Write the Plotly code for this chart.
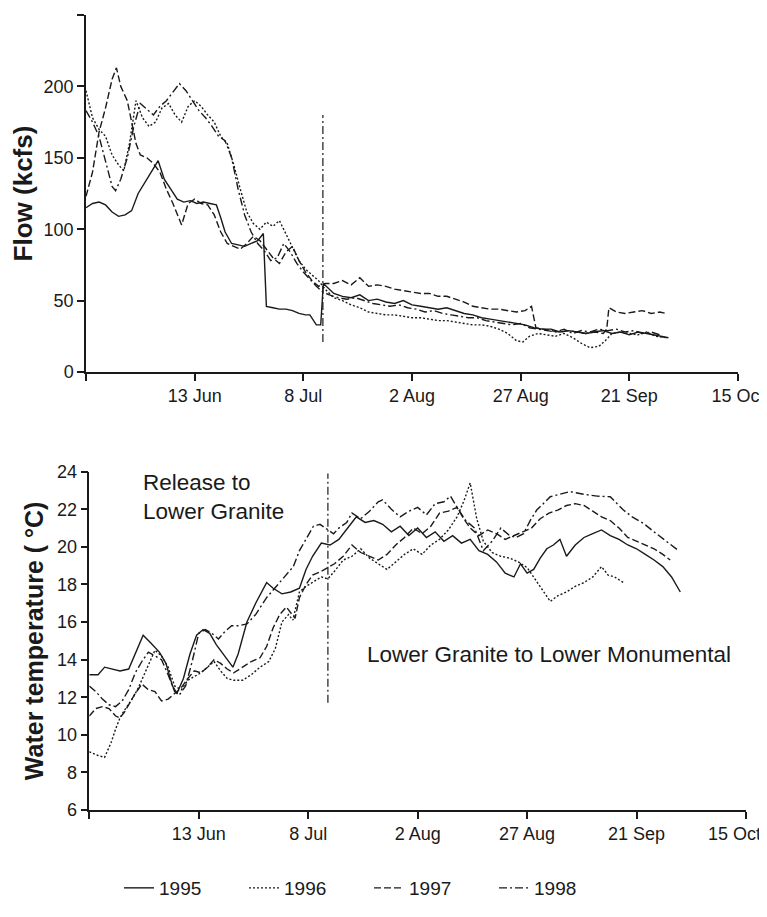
import plotly.graph_objects as go

# ---------------- data ----------------
# x values are days after 19 May
tick_days = [0, 25, 50, 75, 100, 125, 150]
tick_text = ["", "13 Jun", "8 Jul", "2 Aug", "27 Aug", "21 Sep", "15 Oct"]
years = ["1995", "1996", "1997", "1998"]

flow_days_1995 = [0, 1.5, 3, 4.5, 6, 7.5, 9, 10.5, 12, 13.5,
                  15, 16.6, 18, 19.5, 21, 22.5, 24, 25.5, 27, 28.5,
                  30, 31, 32, 33.5, 35, 36.5, 38, 39.5, 40.8, 41.5,
                  43, 44.5, 46, 47.5, 49, 50.5, 51.5, 53, 54, 54.6,
                  57, 59, 61, 63, 65, 67, 69, 71, 73, 75,
                  77, 79, 81, 83, 85, 87, 89, 91, 93, 95,
                  97, 99, 101, 103, 105, 107, 109, 111, 113, 115,
                  117, 119, 121, 123, 125, 127, 129, 131, 133, 134]
flow_1995 = [115, 118, 119, 117, 112, 109, 110, 113, 125, 133,
             140, 148, 135, 128, 121, 119, 120, 118, 119, 118,
             117, 108, 98, 90, 89, 88, 90, 92, 97, 46,
             45, 44, 44, 43, 41, 40, 40, 33, 33, 62,
             55, 53, 52, 54, 50, 51, 49, 48, 50, 47,
             46, 45, 44, 45, 43, 41, 40, 38, 37, 36,
             35, 34, 33, 31, 30, 30, 28, 29, 28, 27,
             28, 29, 27, 28, 26, 28, 27, 26, 25, 24]

flow_days_1996 = [0, 1.5, 3, 4.5, 6, 7.5, 8.7, 10, 11.5, 13,
                  14.5, 16, 17.5, 19, 20.5, 22, 23.5, 25, 26.5, 28,
                  29.5, 31, 32.5, 34, 35.5, 37, 38.5, 40, 41.5, 43,
                  44.5, 46, 47.5, 49, 50.5, 52, 53.5, 55, 57, 59,
                  61, 63, 65, 67, 69, 71, 73, 75, 77, 79,
                  81, 83, 85, 87, 89, 91, 93, 95, 97, 99,
                  100.5, 102, 104, 106, 108, 110, 112, 114, 116, 118,
                  119.5, 121, 123, 125, 127, 129, 131, 133.5]
flow_1996 = [197, 178, 170, 165, 152, 145, 141, 160, 190, 178,
             172, 175, 185, 188, 180, 175, 186, 190, 186, 180,
             175, 165, 160, 145, 128, 112, 104, 100, 105, 102,
             106, 97, 88, 78, 72, 68, 64, 58, 52, 50,
             47, 45, 42, 41, 40, 40, 39, 38, 38, 37,
             36, 36, 35, 34, 33, 33, 32, 30, 27, 22,
             21, 25, 27, 26, 25, 27, 24, 20, 17, 18,
             22, 27, 28, 27, 26, 28, 25, 24]

flow_days_1997 = [0, 1.5, 3, 4.5, 6, 7, 8, 9.5, 10.5, 11.5,
                  12.5, 14, 15.5, 17, 18.5, 20, 22, 23.5, 25, 26.5,
                  28, 29.5, 31, 32.5, 34, 35.5, 37, 38.5, 40, 41.5,
                  43, 44.5, 46, 47.5, 49, 50.5, 52, 53.5, 55, 57,
                  59, 61, 63, 65, 67, 69, 71, 73, 75, 77,
                  79, 81, 83, 85, 87, 89, 91, 93, 95, 97,
                  99, 101, 102.5, 103.5, 105, 107, 109, 111, 113, 115,
                  117, 119, 119.8, 120.3, 122, 124, 126, 128, 130, 132,
                  133.5]
flow_1997 = [123, 140, 168, 185, 205, 213, 200, 190, 175, 160,
             152, 150, 146, 140, 128, 118, 103, 118, 121, 118,
             117, 110, 98, 90, 88, 86, 90, 95, 92, 86,
             80, 76, 84, 88, 78, 70, 64, 60, 62, 62,
             64, 61, 66, 60, 61, 60, 58, 57, 56, 55,
             55, 53, 53, 51, 49, 46, 45, 44, 44, 43,
             42, 43, 46, 31, 30, 29, 28, 29, 28, 27,
             28, 27, 30, 45, 42, 41, 42, 43, 41, 42,
             41]

flow_days_1998 = [0, 1.5, 3, 4.5, 6, 6.8, 8, 9.5, 11, 12.5,
                  14, 15.5, 17, 18.5, 20, 21.5, 23, 24.5, 26, 27.5,
                  29, 30.5, 32, 33.5, 35, 36.5, 38, 39.5, 41, 42.5,
                  44, 45.5, 47, 48.5, 50, 51.5, 53, 54.5, 56, 58,
                  60, 62, 64, 66, 68, 70, 72, 74, 76, 78,
                  80, 82, 84, 86, 88, 90, 92, 94, 96, 98,
                  100, 102, 104, 106, 108, 110, 112, 114, 116, 118,
                  120, 122, 124, 126, 128, 130, 132, 133.5]
flow_1998 = [183, 175, 165, 148, 130, 127, 135, 150, 172, 188,
             184, 180, 186, 190, 196, 202, 197, 190, 183, 178,
             172, 165, 162, 150, 128, 110, 98, 90, 85, 78,
             80, 90, 84, 76, 70, 65, 60, 56, 54, 52,
             51, 52, 50, 48, 47, 46, 47, 45, 44, 42,
             43, 41, 40, 39, 38, 38, 36, 35, 34, 33,
             34, 31, 30, 29, 28, 30, 27, 29, 28, 30,
             29, 30, 28, 29, 27, 28, 26, 23]

temp_days_1995 = [0, 2, 3.5, 5, 7, 9, 10.5, 12.3, 14, 16,
                  17.5, 19, 20, 21.5, 23, 24.5, 26, 27.5, 29, 31,
                  32.8, 34, 36, 38, 40.5, 42, 44, 46, 48, 49.5,
                  51, 53, 55, 57, 59, 61, 63, 65, 67, 69,
                  71, 73, 75, 77, 79, 81, 83, 85, 87, 89,
                  91, 93, 95, 97, 98.5, 100, 101.5, 103, 104.5, 106,
                  107.5, 109, 111, 113, 115, 117, 119, 121, 123, 125,
                  127, 129, 131, 133, 135]
temp_1995 = [13.2, 13.2, 13.6, 13.5, 13.4, 13.5, 14.3, 15.3, 14.9, 14.4,
             13.8, 12.6, 12.2, 13.0, 14.3, 15.3, 15.6, 15.4, 14.8, 14.2,
             13.6, 14.3, 16.0, 17.0, 18.1, 17.8, 17.5, 17.6, 17.8, 18.8,
             19.5, 20.2, 20.1, 20.4, 21.0, 21.6, 21.3, 21.4, 21.2, 20.8,
             21.1, 20.6, 21.0, 20.5, 20.8, 20.3, 20.6, 20.2, 20.4, 19.8,
             19.6, 19.2, 18.6, 18.4, 19.1, 18.6, 18.8, 19.4, 19.9, 20.1,
             20.4, 19.5, 20.1, 20.5, 20.7, 20.9, 20.6, 20.4, 20.1, 19.9,
             19.6, 19.3, 18.95, 18.4, 17.6]

temp_days_1996 = [0, 2, 3.5, 5, 6, 7, 8, 9.5, 11, 12.5,
                  14, 15, 16.5, 18, 19.5, 21, 22.5, 24, 25.5, 27,
                  28.5, 30, 31.5, 33, 35, 37, 39, 41, 42.5, 44,
                  45.5, 46.5, 48, 49.5, 51, 53, 54.5, 56, 58, 60,
                  62, 64, 66, 68, 70, 72, 74, 76, 78, 80,
                  82, 84, 85.5, 87, 88.5, 90, 92, 94, 96, 98,
                  100, 102, 104, 105.3, 107, 109, 111, 113, 115, 117,
                  118.5, 120, 122]
temp_1996 = [9.1, 8.9, 8.8, 9.6, 10.3, 10.9, 11.3, 11.8, 12.4, 13.2,
             14.0, 14.5, 14.2, 13.6, 12.6, 12.4, 12.9, 13.1, 13.3, 13.6,
             13.9, 13.4, 13.0, 12.9, 12.9, 13.2, 13.6, 13.9, 14.6, 16.0,
             16.4, 16.1, 17.6, 17.9, 18.1, 18.4, 18.3, 18.7, 19.3, 19.5,
             19.9, 19.4, 19.1, 18.8, 19.2, 19.6, 19.9, 19.6, 20.1, 20.4,
             20.9, 21.6, 22.4, 23.4, 21.5, 20.3, 19.7, 19.5, 19.4, 19.2,
             18.9, 18.2, 17.5, 17.1, 17.4, 17.6, 17.9, 18.1, 18.4, 18.95,
             18.5, 18.4, 18.1]

temp_days_1997 = [0, 1.5, 3, 4.5, 6, 7, 8, 9, 10.5, 12,
                  13.5, 15, 16.5, 18, 19.5, 21, 22.5, 24, 25.5, 27,
                  28.5, 30, 31.5, 33, 35, 37, 39, 40.5, 42, 43.5,
                  45, 46, 47, 48, 49.5, 51, 53, 54.5, 56, 58,
                  60, 62, 64, 66, 68, 70, 72, 74, 76, 78,
                  80, 82, 84, 85.5, 87, 89, 91, 93, 95, 97,
                  99, 101, 103, 105, 107, 109, 111, 113, 115, 117,
                  119, 121, 123, 125, 127, 129, 131, 132.7]
temp_1997 = [11.0, 11.4, 11.5, 11.4, 11.0, 10.9, 11.2, 11.6, 12.2, 12.7,
             12.4, 12.3, 11.8, 11.9, 12.2, 12.5, 13.0, 13.4, 13.3, 13.6,
             14.0, 13.8, 13.5, 13.3, 13.6, 13.9, 14.1, 14.7, 15.7, 16.4,
             16.8, 16.5, 16.2, 17.3, 18.0, 18.5, 18.7, 18.9, 19.1, 19.5,
             20.1, 19.7, 19.5, 19.3, 19.6, 20.1, 20.5, 21.0, 20.7, 21.1,
             21.8, 21.9, 22.1, 21.5, 21.0, 20.6, 20.9, 20.7, 20.4, 20.6,
             20.8, 21.0, 21.5, 21.8, 21.96, 22.2, 22.3, 22.2, 21.9, 21.6,
             21.4, 21.0, 20.5, 20.3, 20.1, 19.9, 19.6, 19.3]

temp_days_1998 = [0, 1.5, 3, 4.5, 6, 7.5, 9, 10.5, 12, 13.5,
                  15, 16.5, 18, 19.5, 20.5, 22, 23.5, 25, 26.5, 28,
                  29.5, 31, 32.5, 34, 36, 38, 40.5, 42, 43.6, 45,
                  46.6, 48, 49.7, 51.2, 52.7, 54, 55.8, 57, 58.8, 60,
                  62, 64, 66, 67, 69, 71, 73, 75, 77, 79,
                  81, 82.5, 84, 86, 88, 90, 92, 94, 96, 97.5,
                  99.2, 100.7, 102.2, 103.7, 105.3, 107.5, 109.8, 112.9, 116, 119,
                  122, 124, 126.6, 129, 131.9, 134.6]
temp_1998 = [12.6, 12.3, 11.9, 11.6, 11.5, 11.8, 12.4, 13.3, 13.9, 14.4,
             14.2, 14.0, 13.2, 12.3, 12.1, 12.6, 13.9, 15.4, 15.6, 15.4,
             15.1, 15.5, 15.8, 15.8, 15.9, 16.4, 17.3, 17.7, 18.1, 18.5,
             18.95, 19.8, 20.5, 21.1, 21.2, 21.0, 20.7, 21.0, 21.3, 21.8,
             21.5, 21.9, 22.4, 22.5, 22.0, 21.6, 21.9, 22.1, 21.7, 22.3,
             22.4, 22.7, 22.1, 21.4, 21.0, 19.8, 20.3, 21.0, 20.6, 20.5,
             20.7, 21.4, 21.96, 22.3, 22.67, 22.8, 22.94, 22.8, 22.7, 22.67,
             21.96, 21.6, 21.25, 20.8, 20.3, 19.8]

# boundary between the two reaches (day of release arrival at Lower Granite)
split_day = 54.5
flow_split_range = [21, 180]
temp_split_range = [11.7, 23.9]

# ---------------- figure ----------------
# the page body has an 8 px default margin, so the figure is drawn 8 px in;
# keep the page no taller than the window so no scrollbar appears
OFF = 8
W, H = 767 - OFF, 917 - 2 * OFF - 1


def fx(px):
    return (px - OFF) / W


def fy(py):
    return 1 - (py - OFF) / H


INK = "#1a1a1a"
FONT = "Liberation Sans, Arial, Helvetica, sans-serif"
dashes = ["solid", "2px,2px", "7px,3px", "8px,3px,2px,3px"]

# the last label of the lower axis sits at the page edge: it is drawn as a
# right-anchored annotation at that tick instead, so it stays inside the page
tick_text_lower = tick_text[:-1] + [""]

flow_sets = [(flow_days_1995, flow_1995), (flow_days_1996, flow_1996),
             (flow_days_1997, flow_1997), (flow_days_1998, flow_1998)]
temp_sets = [(temp_days_1995, temp_1995), (temp_days_1996, temp_1996),
             (temp_days_1997, temp_1997), (temp_days_1998, temp_1998)]
for d, v in flow_sets + temp_sets:
    assert len(d) == len(v), (len(d), len(v))

fig = go.Figure()
for yr, dash, (d, v) in zip(years, dashes, flow_sets):
    fig.add_trace(go.Scatter(x=d, y=v, mode="lines", name=yr,
                             line=dict(color=INK, width=1.4, dash=dash),
                             xaxis="x", yaxis="y", showlegend=True))
for yr, dash, (d, v) in zip(years, dashes, temp_sets):
    fig.add_trace(go.Scatter(x=d, y=v, mode="lines", name=yr,
                             line=dict(color=INK, width=1.4, dash=dash),
                             xaxis="x2", yaxis="y2", showlegend=False))

split_style = dict(color=INK, width=1.2, dash="8px,3px,2px,3px")
fig.add_trace(go.Scatter(x=[split_day, split_day], y=flow_split_range, mode="lines",
                         line=split_style, xaxis="x", yaxis="y", showlegend=False,
                         hoverinfo="skip"))
fig.add_trace(go.Scatter(x=[split_day, split_day], y=temp_split_range, mode="lines",
                         line=split_style, xaxis="x2", yaxis="y2", showlegend=False,
                         hoverinfo="skip"))

axis_common = dict(showline=True, linecolor=INK, linewidth=1.5, ticks="outside",
                   ticklen=7, tickwidth=1.5, tickcolor=INK, showgrid=False,
                   zeroline=False, automargin=False,
                   tickfont=dict(family=FONT, size=18, color=INK))

fig.update_layout(
    width=W, height=H,
    margin=dict(l=0, r=0, t=0, b=0),
    paper_bgcolor="white", plot_bgcolor="white",
    font=dict(family=FONT, color=INK),
    xaxis=dict(domain=[fx(86), fx(738)], anchor="y", range=[0, 150],
               tickvals=tick_days, ticktext=tick_text,
               ticklabeloverflow="allow", **axis_common),
    yaxis=dict(domain=[fy(372), fy(15)], anchor="x", range=[0, 250],
               tickvals=[0, 50, 100, 150, 200, 250],
               title=dict(text="<b>Flow (kcfs)</b>", standoff=5,
                          font=dict(family=FONT, size=26, color=INK)),
               **axis_common),
    xaxis2=dict(domain=[fx(89.3), fx(746)], anchor="y2", range=[0, 150],
                tickvals=tick_days, ticktext=tick_text_lower,
                ticklabeloverflow="allow", **axis_common),
    yaxis2=dict(domain=[fy(810), fy(471.7)], anchor="x2", range=[6, 24],
                tickvals=[6, 8, 10, 12, 14, 16, 18, 20, 22, 24],
                title=dict(text="<b>Water temperature ( °C)</b>", standoff=6,
                           font=dict(family=FONT, size=25, color=INK)),
                **axis_common),
    legend=dict(orientation="h", x=fx(119), xanchor="left", y=fy(888),
                yanchor="middle", entrywidth=80, bgcolor="rgba(0,0,0,0)",
                font=dict(family=FONT, size=19, color=INK), itemwidth=30),
    annotations=[
        dict(text="Release to<br>Lower Granite", xref="paper", yref="paper",
             x=fx(141), y=fy(497), xanchor="left", yanchor="middle",
             align="left", showarrow=False,
             font=dict(family=FONT, size=22.5, color=INK)),
        dict(text="Lower Granite to Lower Monumental", xref="paper", yref="paper",
             x=fx(365), y=fy(654), xanchor="left", yanchor="middle",
             align="left", showarrow=False,
             font=dict(family=FONT, size=22.5, color=INK)),
        dict(text=tick_text[-1], xref="x2", yref="paper", x=tick_days[-1],
             y=fy(834), xanchor="right", yanchor="middle", xshift=17,
             showarrow=False, font=dict(family=FONT, size=18, color=INK)),
    ],
)

fig.write_html("out.html")
